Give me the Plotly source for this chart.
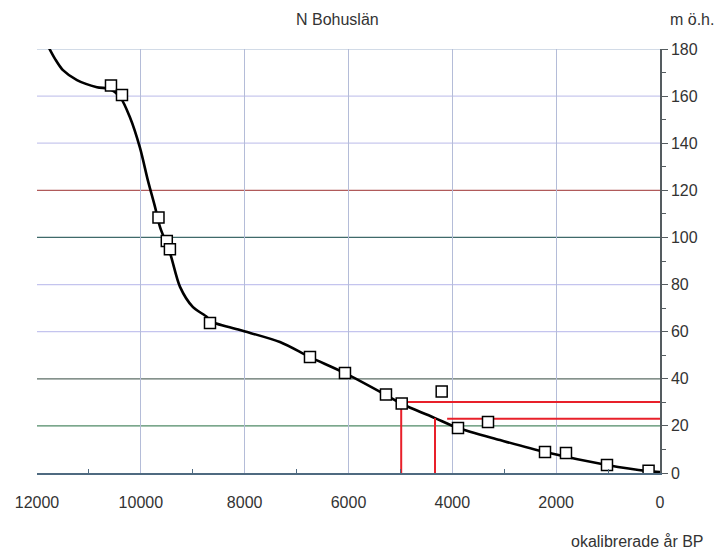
import plotly.graph_objects as go

# Observed data points (uncalibrated years BP, metres above sea level)
obs_years = [10575, 10363, 9660, 9500, 9440, 8668, 6742, 6068, 5278, 4975, 4205, 3891, 3313, 2215, 1811, 1021, 220]
obs_height = [164.5, 160.5, 108.5, 98.5, 95.0, 63.7, 49.2, 42.4, 33.3, 29.5, 34.6, 19.1, 21.6, 8.9, 8.5, 3.4, 1.0]

# Shore displacement curve
curve_years = [11830, 11650, 11500, 11230, 10845, 10594, 10400, 10210, 10016, 9862, 9727, 9630,
               9438, 9245, 9000, 8725, 8668, 8090, 7320, 6742, 6068, 5278, 4970, 4334, 3891,
               3082, 2215, 1021, 231, 0]
curve_height = [183, 175.7, 171, 166.8, 163.8, 163, 159.6, 151, 138, 124, 113, 104.4,
                93.4, 79, 70.5, 66.2, 64.5, 60.7, 55.6, 49.2, 42.4, 33.1, 29.3, 23.3, 19.1,
                14, 8.9, 3.4, 0.8, 0.4]

# Red reading lines
red1_x = [4985, 4985, 0]
red1_y = [0, 30.1, 30.1]
red2a_x = [4334, 4334]
red2a_y = [0, 23.3]
red2b_x = [4100, 0]
red2b_y = [23.0, 23.0]

y_ticks = [0, 20, 40, 60, 80, 100, 120, 140, 160, 180]
x_ticks = [12000, 10000, 8000, 6000, 4000, 2000, 0]

grid_colors = {20: "#4f8a66", 40: "#5d6e66", 60: "#c4c4ee", 80: "#c4c4ee", 100: "#3f6a6a",
               120: "#b05a5a", 140: "#c8c8ee", 160: "#c8c8ee", 180: "#a6b8d0"}

fig = go.Figure()

for v, c in grid_colors.items():
    fig.add_shape(type="line", xref="x", yref="y", x0=12000, x1=0, y0=v, y1=v,
                  line=dict(color=c, width=1.2), layer="below")

fig.add_trace(go.Scatter(x=curve_years, y=curve_height, mode="lines",
                         line=dict(color="black", width=2.6, shape="spline", smoothing=0.8),
                         hoverinfo="skip", cliponaxis=False))

red = "#e8202a"
for xs, ys in [(red1_x, red1_y), (red2a_x, red2a_y), (red2b_x, red2b_y)]:
    fig.add_trace(go.Scatter(x=xs, y=ys, mode="lines", line=dict(color=red, width=2)))

fig.add_trace(go.Scatter(x=obs_years, y=obs_height, mode="markers",
                         marker=dict(symbol="square", size=11, color="white",
                                     line=dict(color="black", width=1.5))))

fig.update_layout(
    width=718, height=552,
    margin=dict(l=37, r=58, t=49, b=79),
    paper_bgcolor="white", plot_bgcolor="white",
    showlegend=False,
    font=dict(family="Liberation Sans, Arial, sans-serif", size=16, color="#333333"),
    xaxis=dict(range=[12000, 0], tickvals=x_ticks, ticktext=[str(v) for v in x_ticks],
               showgrid=True, gridcolor="#b4bcd8", gridwidth=1, zeroline=False,
               showline=True, linecolor="#4f6a80", linewidth=1.5,
               ticks="", ticklen=0, tickfont=dict(size=16), ticklabelstandoff=14,
               minor=dict(tickvals=[11000, 9000, 7000, 5000, 3000, 1000], ticks="inside",
                          ticklen=4, tickcolor="#4f6a80", showgrid=False),
               mirror=False),
    yaxis=dict(range=[0, 180], side="right", tickvals=y_ticks, showgrid=False,
               zeroline=False, showline=True, linecolor="#555c60", linewidth=1.5,
               ticks="outside", ticklen=6, tickcolor="#555c60", tickfont=dict(size=16),
               minor=dict(dtick=10, ticks="outside", ticklen=4, tickcolor="#555c60",
                          showgrid=False)),
)

def pix(x, y):
    return (x - 37) / 623, (473 - y) / 424

for txt, px, py, anc, sz in [("N Bohuslän", 337, 19, "center", 16),
                             ("m ö.h.", 692, 19, "center", 16),
                             ("okalibrerade år BP", 706, 541, "right", 16)]:
    xx, yy = pix(px, py)
    fig.add_annotation(text=txt, x=xx, y=yy, xref="paper", yref="paper", showarrow=False,
                       xanchor=anc, yanchor="middle", font=dict(size=sz, color="#333333"))

fig.write_html("out.html")
